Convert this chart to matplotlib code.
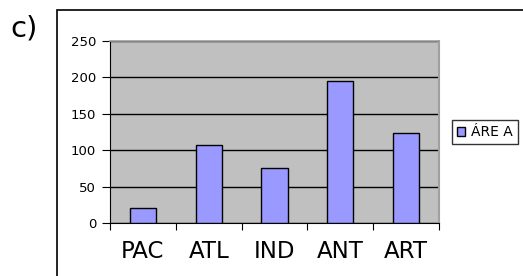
import matplotlib
matplotlib.use("Agg")
import matplotlib.pyplot as plt
from matplotlib.patches import Rectangle

categories = ["PAC", "ATL", "IND", "ANT", "ART"]
values = [20, 107, 75, 195, 123]
series_name = "ÁRE A"
yticks = [0, 50, 100, 150, 200, 250]

plt.rcParams['font.family'] = ['DejaVu Sans']

fig = plt.figure(figsize=(5.23, 2.76), dpi=100)
fig.patch.set_facecolor("white")

# outer chart frame (right and bottom edges fall outside the image)
fig.patches.append(Rectangle((57 / 523, -0.1), 1.0, 1.1 - 10 / 276,
                             transform=fig.transFigure, fill=False, edgecolor="black",
                             linewidth=1.2, clip_on=False))

ax = fig.add_axes([110 / 523, 53 / 276, 329 / 523, 182 / 276])
ax.set_facecolor("#C0C0C0")
x = range(len(categories))
ax.bar(x, values, width=0.4, color="#9999FF", edgecolor="black",
       linewidth=1.0, label=series_name, zorder=3)

ax.set_ylim(0, 250)
ax.set_xlim(-0.5, len(categories) - 0.5)
ax.set_yticks(yticks)
ax.set_yticklabels([str(t) for t in yticks], fontsize=9.5)
ax.yaxis.grid(True, color="black", linewidth=1.0, zorder=1)
ax.set_axisbelow(True)

ax.set_xticks([i + 0.5 for i in range(-1, len(categories))], minor=False)
ax.set_xticklabels([])
ax.set_xticks(list(x), minor=True)
ax.set_xticklabels(categories, minor=True, fontsize=16.5)
ax.tick_params(axis="x", which="minor", length=0, pad=12)
ax.tick_params(axis="x", which="major", length=5, direction="out", color="black")
ax.tick_params(axis="y", length=6, direction="out", color="black", pad=4)

ax.spines["left"].set_color("black")
ax.spines["bottom"].set_color("black")
ax.spines["top"].set_color("#A0A0A0")
ax.spines["right"].set_color("#A0A0A0")
ax.spines["top"].set_linewidth(1.2)
ax.spines["right"].set_linewidth(1.5)

leg = fig.legend(loc="center left", bbox_to_anchor=(452 / 523, (276 - 132) / 276),
                 fontsize=10, frameon=True, fancybox=False, handlelength=0.6,
                 handleheight=0.6, handletextpad=0.45, borderpad=0.35,
                 borderaxespad=0)
leg.get_frame().set_edgecolor("black")
leg.get_frame().set_linewidth(1.0)

fig.text(10 / 523, 1 - 29 / 276, "c)", fontsize=21, va="center")

fig.savefig("out.png", dpi=100)
